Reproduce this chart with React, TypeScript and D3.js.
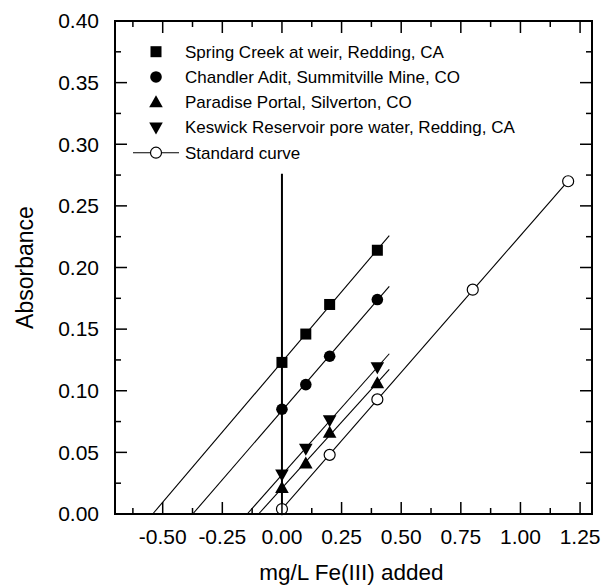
import React from "react";
import * as d3 from "d3";

const seriesNames = [
  "Spring Creek at weir, Redding, CA",
  "Chandler Adit, Summitville Mine, CO",
  "Paradise Portal, Silverton, CO",
  "Keswick Reservoir pore water, Redding, CA",
];
const sampleX = [0, 0.1, 0.2, 0.4];
const springCreek = [0.123, 0.146, 0.17, 0.214];
const chandler = [0.085, 0.105, 0.128, 0.174];
const paradise = [0.021, 0.041, 0.066, 0.106];
const keswick = [0.032, 0.053, 0.076, 0.119];
const standardX = [0, 0.2, 0.4, 0.8, 1.2];
const standardY = [0.004, 0.048, 0.093, 0.182, 0.27];
const standardName = "Standard curve";
const xTicks = [-0.5, -0.25, 0, 0.25, 0.5, 0.75, 1.0, 1.25];
const yTicks = [0, 0.05, 0.1, 0.15, 0.2, 0.25, 0.3, 0.35, 0.4];
const xLabel = "mg/L Fe(III) added";
const yLabel = "Absorbance";
const verticalLineTop = 0.276;

const W = 602;
const H = 586;
const M = { left: 115, top: 21, right: 10, bottom: 72 };

function fit(xs: number[], ys: number[]) {
  const mx = d3.mean(xs)!;
  const my = d3.mean(ys)!;
  let num = 0, den = 0;
  xs.forEach((x, i) => {
    num += (x - mx) * (ys[i] - my);
    den += (x - mx) * (x - mx);
  });
  const slope = num / den;
  const intercept = my - slope * mx;
  return { slope, intercept };
}

function Marker({ kind, x, y }: { kind: string; x: number; y: number }) {
  if (kind === "square") return <rect x={x - 5.5} y={y - 5.5} width={11} height={11} fill="#000" />;
  if (kind === "circle") return <circle cx={x} cy={y} r={5.8} fill="#000" />;
  if (kind === "up") return <path d={`M${x},${y - 7}L${x + 6.8},${y + 5}L${x - 6.8},${y + 5}Z`} fill="#000" />;
  if (kind === "down") return <path d={`M${x},${y + 7}L${x + 6.8},${y - 5}L${x - 6.8},${y - 5}Z`} fill="#000" />;
  return <circle cx={x} cy={y} r={5.5} fill="#fff" stroke="#000" strokeWidth={1.2} />;
}

export default function App() {
  const x = d3.scaleLinear().domain([-0.7, 1.3]).range([M.left, W - M.right]);
  const y = d3.scaleLinear().domain([0, 0.4]).range([H - M.bottom, M.top]);
  const font = "Liberation Sans, Arial, Helvetica, sans-serif";

  const samples = [
    { kind: "square", ys: springCreek },
    { kind: "circle", ys: chandler },
    { kind: "up", ys: paradise },
    { kind: "down", ys: keswick },
  ];

  const xMinor = d3.range(-0.625, 1.3, 0.125);
  const yMinor = d3.range(0, 0.4001, 0.025);
  const x0 = M.left, x1 = W - M.right, y0 = H - M.bottom, y1 = M.top;

  const line = d3.line<[number, number]>().x((d) => x(d[0])).y((d) => y(d[1]));

  const lines = samples.map((s) => {
    const f = fit(sampleX, s.ys);
    const xs = -f.intercept / f.slope;
    const xe = 0.45;
    return line([[xs, 0], [xe, f.intercept + f.slope * xe]]);
  });
  const sf = fit(standardX, standardY);
  const stdLine = line([[-sf.intercept / sf.slope, 0], [1.2, sf.intercept + sf.slope * 1.2]]);

  const legendRows = [...seriesNames, standardName];
  const legendKinds = ["square", "circle", "up", "down", "open"];

  return (
    <svg width={W} height={H} style={{ position: "absolute", left: 0, top: 0 }} fontFamily={font}>
      <rect width={W} height={H} fill="#fff" />
      {lines.map((d, i) => (
        <path key={i} d={d!} fill="none" stroke="#000" strokeWidth={1.1} />
      ))}
      <path d={stdLine!} fill="none" stroke="#000" strokeWidth={1.1} />
      <line x1={x(0)} x2={x(0)} y1={y(0)} y2={y(verticalLineTop)} stroke="#000" strokeWidth={2} />
      {samples.map((s, i) =>
        s.ys.map((v, j) => <Marker key={`${i}-${j}`} kind={s.kind} x={x(sampleX[j])} y={y(v)} />)
      )}
      {standardY.map((v, j) => (
        <Marker key={`s-${j}`} kind="open" x={x(standardX[j])} y={y(v)} />
      ))}
      <rect x={x0} y={y1} width={x1 - x0} height={y0 - y1} fill="none" stroke="#000" strokeWidth={2} />
      {xTicks.map((t) => (
        <g key={`xt${t}`}>
          <line x1={x(t)} x2={x(t)} y1={y0} y2={y0 - 12} stroke="#000" strokeWidth={1.5} />
          <line x1={x(t)} x2={x(t)} y1={y1} y2={y1 + 12} stroke="#000" strokeWidth={1.5} />
          <text x={x(t)} y={y0 + 30} textAnchor="middle" fontSize={21}>
            {d3.format(".2f")(t).replace("−", "-")}
          </text>
        </g>
      ))}
      {xMinor
        .filter((t) => !xTicks.some((m) => Math.abs(m - t) < 1e-6))
        .map((t) => (
          <g key={`xm${t}`}>
            <line x1={x(t)} x2={x(t)} y1={y0} y2={y0 - 6} stroke="#000" strokeWidth={1.5} />
            <line x1={x(t)} x2={x(t)} y1={y1} y2={y1 + 6} stroke="#000" strokeWidth={1.5} />
          </g>
        ))}
      {yTicks.map((t) => (
        <g key={`yt${t}`}>
          <line x1={x0} x2={x0 + 12} y1={y(t)} y2={y(t)} stroke="#000" strokeWidth={1.5} />
          <line x1={x1} x2={x1 - 12} y1={y(t)} y2={y(t)} stroke="#000" strokeWidth={1.5} />
          <text x={x0 - 16} y={y(t)} dy="0.35em" textAnchor="end" fontSize={21}>
            {d3.format(".2f")(t)}
          </text>
        </g>
      ))}
      {yMinor
        .filter((t) => !yTicks.some((m) => Math.abs(m - t) < 1e-6))
        .map((t) => (
          <g key={`ym${t}`}>
            <line x1={x0} x2={x0 + 6} y1={y(t)} y2={y(t)} stroke="#000" strokeWidth={1.5} />
            <line x1={x1} x2={x1 - 6} y1={y(t)} y2={y(t)} stroke="#000" strokeWidth={1.5} />
          </g>
        ))}
      <text x={(x0 + x1) / 2 - 2} y={580} textAnchor="middle" fontSize={22.5}>
        {xLabel}
      </text>
      <text transform={`translate(33,${(y0 + y1) / 2}) rotate(-90)`} textAnchor="middle" fontSize={23}>
        {yLabel}
      </text>
      {legendRows.map((name, i) => {
        const ly = 51.7 + i * 25.25;
        return (
          <g key={name}>
            {legendKinds[i] === "open" && (
              <line x1={133} x2={179} y1={ly} y2={ly} stroke="#000" strokeWidth={1.1} />
            )}
            <Marker kind={legendKinds[i]} x={156} y={ly} />
            <text x={185} y={ly} dy="0.35em" fontSize={17}>
              {name}
            </text>
          </g>
        );
      })}
    </svg>
  );
}
